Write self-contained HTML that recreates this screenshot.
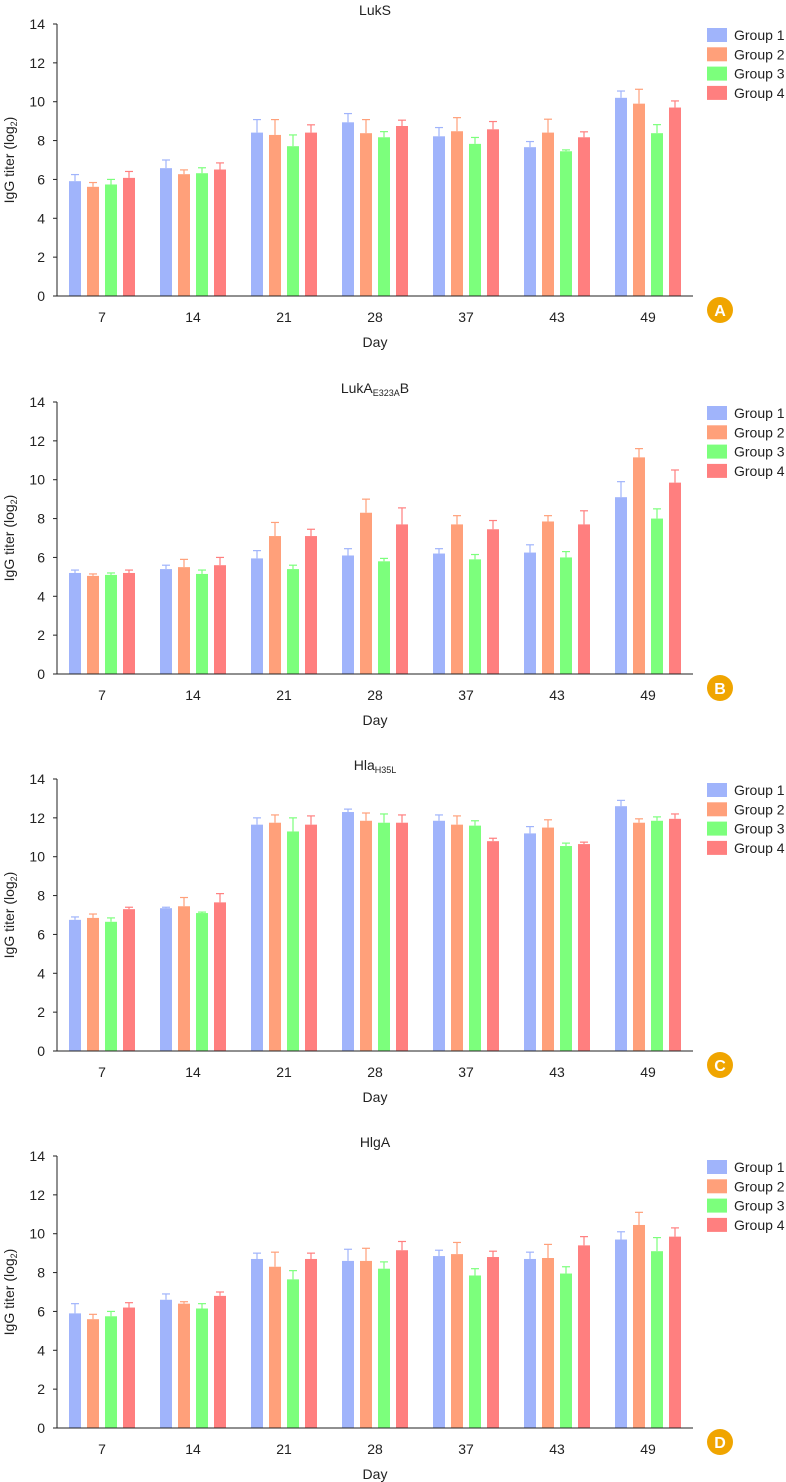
<!DOCTYPE html>
<html><head><meta charset="utf-8"><style>
html,body{margin:0;padding:0;background:#fff;}
svg{display:block;font-family:"Liberation Sans",sans-serif;}
</style></head><body>
<svg id="chart" width="786" height="1482" viewBox="0 0 786 1482" xmlns="http://www.w3.org/2000/svg"></svg>
<script>
const days = ["7","14","21","28","37","43","49"];
const groups = ["Group 1","Group 2","Group 3","Group 4"];
const yTicks = [0,2,4,6,8,10,12,14];
const panelTitles = ["LukS","LukA|E323A|B","Hla|H35L|","HlgA"];
const panelLetters = ["A","B","C","D"];
const meansA = [[5.91,6.58,8.41,8.94,8.22,7.66,10.2],[5.62,6.27,8.29,8.38,8.48,8.41,9.9],[5.74,6.32,7.71,8.17,7.83,7.45,8.38],[6.08,6.51,8.41,8.75,8.58,8.17,9.7]];
const errTopA = [[6.25,7.0,9.08,9.39,8.67,7.95,10.55],[5.84,6.49,9.08,9.08,9.18,9.1,10.64],[6.0,6.6,8.29,8.46,8.16,7.52,8.82],[6.41,6.85,8.81,9.05,8.98,8.45,10.04]];
const meansB = [[5.2,5.4,5.95,6.1,6.2,6.25,9.1],[5.05,5.5,7.1,8.3,7.7,7.85,11.15],[5.1,5.15,5.4,5.8,5.9,6.0,8.0],[5.2,5.6,7.1,7.7,7.45,7.7,9.85]];
const errTopB = [[5.35,5.6,6.35,6.45,6.45,6.65,9.9],[5.15,5.9,7.8,9.0,8.15,8.15,11.6],[5.2,5.35,5.6,5.95,6.15,6.3,8.5],[5.35,6.0,7.45,8.55,7.9,8.4,10.5]];
const meansC = [[6.75,7.35,11.65,12.3,11.85,11.2,12.6],[6.85,7.45,11.75,11.85,11.65,11.5,11.75],[6.65,7.1,11.3,11.75,11.6,10.55,11.85],[7.3,7.65,11.65,11.75,10.8,10.65,11.95]];
const errTopC = [[6.9,7.4,12.0,12.45,12.15,11.55,12.9],[7.05,7.9,12.15,12.25,12.1,11.9,11.95],[6.85,7.15,12.0,12.2,11.85,10.7,12.05],[7.4,8.1,12.1,12.15,10.95,10.75,12.2]];
const meansD = [[5.9,6.6,8.7,8.6,8.85,8.7,9.7],[5.6,6.4,8.3,8.6,8.95,8.75,10.45],[5.75,6.15,7.65,8.2,7.85,7.95,9.1],[6.2,6.8,8.7,9.15,8.8,9.4,9.85]];
const errTopD = [[6.4,6.9,9.0,9.2,9.15,9.05,10.1],[5.85,6.5,9.05,9.25,9.55,9.45,11.1],[6.0,6.4,8.1,8.55,8.2,8.3,9.8],[6.45,7.0,9.0,9.6,9.1,9.85,10.3]];
const allMeans=[meansA,meansB,meansC,meansD], allErr=[errTopA,errTopB,errTopC,errTopD];
const colors=["#a0b4fb","#ffa07a","#7cff7c","#ff7f7f"];
const offsets=[0,378,755,1132];
const svg=document.getElementById('chart');
const NS="http://www.w3.org/2000/svg";
function mk(tag,attrs,parent,text){const e=document.createElementNS(NS,tag);for(const k in attrs)e.setAttribute(k,attrs[k]);if(text!==undefined)e.textContent=text;parent.appendChild(e);return e;}
const x0=57,x1=693,yMax=14,pitch=91,firstC=102;
panelTitles.forEach((t,p)=>{
  const off=offsets[p];
  const y0=296+off, yTop=24+off;
  const ys=v=>y0-(v/yMax)*(y0-yTop);
  const xs=(i,g)=>firstC+i*pitch+(g-1.5)*18;
  const g=mk('g',{},svg);
  
  
  const parts=t.split('|');
  const title=mk('text',{x:375,y:15+off,'text-anchor':'middle','font-size':14,fill:'#222'},g);
  
  
  mk('tspan',{},title,parts[0]);
  if(parts.length>1){mk('tspan',{'font-size':9,dy:3},title,parts[1]);mk('tspan',{dy:-3},title,parts[2]);}
  // bars
  groups.forEach((gn,gi)=>{
    days.forEach((d,i)=>{
      const m=allMeans[p][gi][i], e=allErr[p][gi][i];
      const cx=xs(i,gi);
      const ln=mk('line',{x1:cx,x2:cx,y1:ys(m),y2:ys(e),stroke:colors[gi],'stroke-width':1.2},g);
      
      
      mk('line',{x1:cx-4,x2:cx+4,y1:ys(e),y2:ys(e),stroke:colors[gi],'stroke-width':1.2},g);
      const r=mk('rect',{x:cx-6,y:ys(m),width:12,height:y0-ys(m),fill:colors[gi]},g);
      
      
    });
  });
  // axes
  mk('line',{x1:x0,x2:x0,y1:yTop,y2:y0,stroke:'#222','stroke-width':1},g);
  mk('line',{x1:x0,x2:x1,y1:y0,y2:y0,stroke:'#222','stroke-width':1},g);
  yTicks.forEach(v=>{
    mk('line',{x1:x0-4,x2:x0,y1:ys(v),y2:ys(v),stroke:'#222'},g);
    const tl=mk('text',{x:45,y:ys(v)+5,'text-anchor':'end','font-size':14,fill:'#222'},g,String(v));
    
    
  });
  days.forEach((d,i)=>{
    const tl=mk('text',{x:firstC+i*pitch,y:y0+26,'text-anchor':'middle','font-size':14,fill:'#222'},g,d);
    
    
  });
  const xt=mk('text',{x:375,y:y0+51,'text-anchor':'middle','font-size':14,fill:'#222'},g,'Day');
  
  
  const yt=mk('text',{x:0,y:0,'text-anchor':'middle','font-size':14,fill:'#222',transform:`translate(14,${(y0+yTop)/2}) rotate(-90)`},g);
  
  
  mk('tspan',{},yt,'IgG titer (log');mk('tspan',{'font-size':9,dy:3},yt,'2');mk('tspan',{dy:-3},yt,')');
  // legend
  groups.forEach((gn,gi)=>{
    const ly=28+off+gi*19.3;
    const sw=mk('rect',{x:707,y:ly,width:20,height:14,fill:colors[gi]},g);
    
    
    const lt=mk('text',{x:734,y:ly+12,'font-size':14,fill:'#222'},g,gn);
    
    
  });
  const c=mk('circle',{cx:720,cy:310+off,r:13,fill:'#f0a500'},g);
  
  
  mk('text',{x:720,y:316+off,'text-anchor':'middle','font-size':16,'font-weight':'bold',fill:'#fff'},g,panelLetters[p]);
});
</script>
</body></html>
